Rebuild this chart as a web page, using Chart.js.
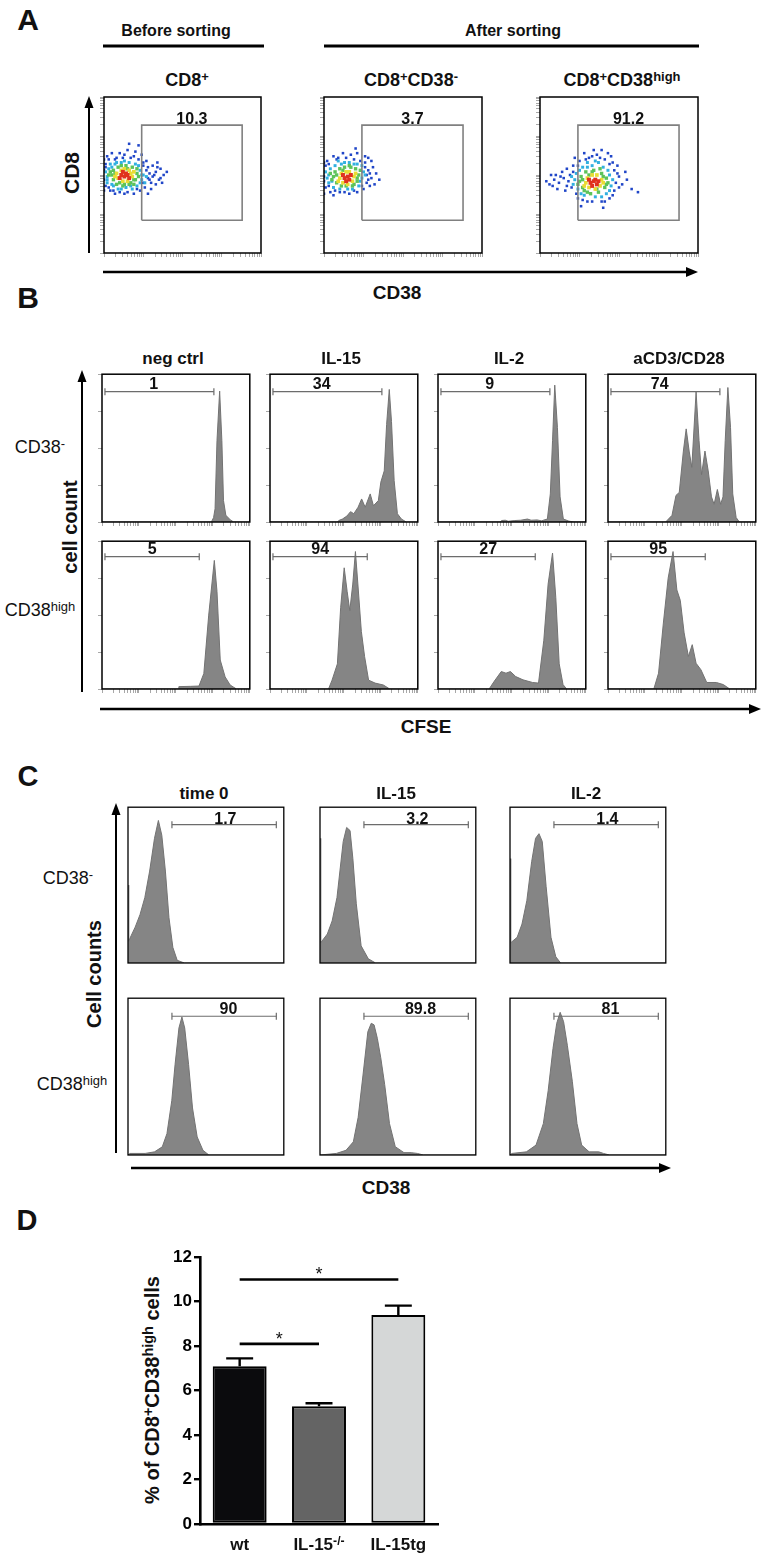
<!DOCTYPE html>
<html><head><meta charset="utf-8">
<script src="https://cdn.jsdelivr.net/npm/chart.js@4.4.1/dist/chart.umd.min.js"></script>
<style>
html,body{margin:0;padding:0;background:#fff}
#fig{position:relative;width:766px;height:1556px;overflow:hidden;background:#fff;font-family:"Liberation Sans",Arial,Helvetica,sans-serif;color:#111}
.t{position:absolute;transform:translate(-50%,-50%);white-space:nowrap;line-height:1;font-weight:bold}
.t sup{font-size:0.72em;position:relative;top:-0.42em;vertical-align:baseline;line-height:0}
.r{transform:translate(-50%,-50%) rotate(-90deg)}
.n{font-weight:normal}
canvas{position:absolute}
#deco{position:absolute;left:0;top:0}
</style></head>
<body><div id="fig">
<svg id="deco" width="766" height="1556">
 <g stroke="#000" fill="none">
  <line x1="103" y1="46" x2="264" y2="46" stroke-width="3"/>
  <line x1="324" y1="46" x2="699" y2="46" stroke-width="3"/>
  <line x1="89" y1="253" x2="89" y2="104" stroke-width="2"/>
  <line x1="103" y1="272" x2="688" y2="272" stroke-width="2.5"/>
  <line x1="82" y1="692" x2="82" y2="380" stroke-width="2"/>
  <line x1="100" y1="709" x2="750" y2="709" stroke-width="2.5"/>
  <line x1="116" y1="1153" x2="116" y2="813" stroke-width="2"/>
  <line x1="131" y1="1168" x2="660" y2="1168" stroke-width="2.5"/>
 </g>
 <g fill="#000">
  <polygon points="89,96 84.5,108 93.5,108"/>
  <polygon points="698,272 686,267 686,277"/>
  <polygon points="82,370 77.5,382 86.5,382"/>
  <polygon points="761,709 749,704 749,714"/>
  <polygon points="116,803 111.5,815 120.5,815"/>
  <polygon points="671,1168 659,1163 659,1173"/>
 </g>
</svg>
</div>
<script>
// ================= DATA =================
// ---- Panel A (flow cytometry dot plots, CD38 vs CD8, axes in % of log range)
const sortGroupsA = ['Before sorting', 'After sorting'];
const populationsA = ['CD8<sup>+</sup>', 'CD8<sup>+</sup>CD38<sup>-</sup>', 'CD8<sup>+</sup>CD38<sup>high</sup>'];
const gateValuesA = ['10.3', '3.7', '91.2'];
const gateA = [24, 88, 21, 82]; // CD38high gate: x from, x to, y from, y to

const cloudA1_red = [[11,50],[13,49],[15,50],[12,52],[14,51],[10,48],[16,48]];
const cloudA1_yellow = [[8,51],[9,48],[17,51],[18,49],[13,54],[12,46],[15,46],[7,49],[19,52],[11,53],[16,53]];
const cloudA1_green = [[5,50],[6,53],[6,47],[20,47],[21,51],[9,55],[14,56],[18,55],[10,45],[17,45],[4,52],[22,49],[8,44],[13,44],[19,44],[7,51],[15,54],[11,56],[19,47],[12,43],[3,50],[21,54],[16,44]];
const cloudA1_cyan = [[2,49],[3,54],[2,45],[23,53],[24,47],[7,57],[11,58],[16,58],[20,57],[6,43],[14,42],[21,43],[25,50],[1,52],[4,57],[9,41],[18,41],[26,45],[5,55],[8,58],[13,59],[22,56],[24,50],[2,47],[5,44],[11,41],[17,43],[23,45],[27,49]];
const cloudA1_blue = [[0,47],[0,53],[1,57],[1,43],[3,60],[4,40],[8,61],[12,61],[17,61],[22,60],[25,56],[27,53],[28,48],[26,42],[23,40],[19,38],[13,38],[7,38],[29,51],[31,49],[30,45],[33,52],[35,47],[36,54],[38,50],[31,56],[27,59],[24,63],[20,65],[15,66],[10,64],[5,64],[2,62],[0,60],[0,40],[30,41],[33,44],[37,45],[28,38],[34,58],[16,70],[22,69],[3,42],[6,40],[10,39],[15,39],[21,41],[25,45],[29,47],[32,50],[28,55],[25,58],[19,62],[13,63],[7,60],[1,55],[34,55],[36,48],[40,52]];

const cloudA2_red = [[13,48],[15,49],[14,46],[16,47],[12,50],[17,50]];
const cloudA2_yellow = [[10,48],[11,51],[18,46],[19,49],[14,52],[16,52],[12,45],[15,44],[9,46],[20,51]];
const cloudA2_green = [[6,49],[7,52],[8,45],[21,46],[22,50],[10,54],[17,55],[13,55],[11,43],[18,43],[5,47],[23,53],[20,54],[8,50],[12,53],[19,44],[14,43],[4,51],[16,56],[21,48]];
const cloudA2_cyan = [[3,50],[4,54],[3,45],[24,48],[25,52],[7,56],[13,58],[19,57],[6,42],[15,41],[22,43],[2,48],[9,59],[24,56],[5,46],[10,41],[18,41],[23,46],[26,50],[11,57],[16,58],[21,57],[1,52]];
const cloudA2_blue = [[0,46],[0,52],[1,56],[1,42],[2,59],[4,39],[9,61],[14,61],[19,60],[23,59],[26,55],[27,50],[27,45],[25,41],[21,39],[16,38],[10,39],[6,37],[28,53],[30,48],[29,43],[31,55],[33,51],[35,47],[30,59],[26,62],[21,64],[12,64],[6,62],[0,58],[0,38],[32,44],[20,67],[28,61],[3,43],[7,40],[13,39],[19,40],[24,43],[28,47],[29,51],[26,58],[17,63],[8,60],[3,57],[0,49]];

const cloudA3_red = [[32,45],[34,46],[36,44],[33,43],[35,47],[31,47],[37,46]];
const cloudA3_yellow = [[29,45],[30,48],[38,43],[39,47],[33,50],[36,50],[31,42],[35,41],[28,43],[40,45]];
const cloudA3_green = [[25,46],[26,49],[27,42],[41,42],[42,48],[29,52],[34,53],[39,51],[30,39],[37,39],[24,44],[43,45],[32,38],[38,54],[27,47],[31,50],[40,49],[28,40],[36,41],[33,52],[42,44]];
const cloudA3_cyan = [[22,47],[23,51],[24,41],[44,50],[45,43],[27,55],[33,56],[40,55],[28,37],[35,36],[42,38],[21,44],[46,47],[37,58],[30,58],[25,53],[20,49],[26,38],[39,36],[44,40],[43,53],[35,59],[30,55]];
const cloudA3_blue = [[18,46],[19,50],[20,42],[15,48],[12,45],[9,47],[6,44],[4,46],[14,52],[10,50],[17,54],[21,56],[25,59],[31,61],[36,63],[41,60],[44,57],[47,53],[48,45],[47,40],[44,35],[39,33],[33,33],[27,34],[23,38],[50,49],[52,44],[55,47],[58,41],[62,39],[49,56],[43,64],[28,64],[22,61],[16,40],[26,30],[40,29],[54,52],[11,41],[7,50],[45,62],[34,66],[17,43],[21,52],[24,56],[29,60],[33,62],[38,61],[46,58],[49,51],[50,42],[46,37],[41,33],[30,33],[24,35],[13,49],[8,43],[39,66]];

// ---- Panel B (CFSE dilution histograms, x = CFSE % of range, y = % of max count)
const stimB = ['neg ctrl', 'IL-15', 'IL-2', 'aCD3/CD28'];
const rowLabelsB = ['CD38<sup>-</sup>', 'CD38<sup>high</sup>'];
const gateValuesB_neg = ['1', '34', '9', '74'];
const gateValuesB_high = ['5', '94', '27', '95'];
const gateB_neg = [2, 75.7];
const gateB_high = [2, 65.8];

const histB_neg_negctrl = [[0,0],[74,0],[75.5,3],[76.5,9],[77.8,55],[79.6,88.6],[81.1,55],[82.2,14.5],[83.8,4.5],[86.7,1.6],[89,0],[100,0]];
const histB_neg_IL15 = [[0,0],[45.6,0],[46.5,1],[49,2],[52,4],[54.5,7],[56.7,5.6],[59.6,10],[62,15.6],[64.4,10],[67.8,19],[70,11],[73.3,14.5],[75,27],[77.3,34.6],[78.9,66],[80.7,89.7],[82.2,68],[84,28],[86.2,5.6],[88.9,2],[92.2,0],[100,0]];
const histB_neg_IL2 = [[0,0],[42,0],[43,1],[45.5,1.2],[47.5,0.5],[52,1],[56,1.2],[60.5,2],[63,1.2],[67,1.4],[70,0.8],[74,2],[76,19],[77.5,55],[79,92.6],[80.8,64],[82.6,17],[84.8,2],[88.5,0.6],[92,0],[100,0]];
const histB_neg_aCD3 = [[0,0],[39,0],[43.3,4.5],[46,18],[48.2,20],[51,48],[52.9,63],[54.9,48],[56.7,37],[59.6,88],[61.6,55],[63.3,32],[65.6,48],[67.8,34.6],[70,17],[71.8,12],[74,22],[76.2,12],[77.8,17],[79.3,55],[81.1,91],[82.9,64],[84.4,19],[86.7,3],[88.9,0],[100,0]];
const histB_high_negctrl = [[0,0],[51.8,0],[52,1.6],[60,1.8],[65.6,2],[68.9,10.5],[72.2,50],[76,87],[77.8,66],[80,19.6],[83.3,8.2],[86.7,2.7],[91,0],[100,0]];
const histB_high_IL15 = [[0,0],[39.6,0],[42,6],[45.6,17],[47.8,55],[50.2,82],[52.2,66],[54,53],[56,71],[57.8,93],[59.6,69],[61.8,39],[64,22],[66.7,6],[71.1,4],[76.7,2.7],[81,0],[100,0]];
const histB_high_IL2 = [[0,0],[34.6,0],[37.9,5],[42.8,11.8],[46,10.7],[49,11.8],[52.6,8.4],[57.5,6.2],[64,4.4],[68,4],[71.6,33],[74.5,71],[77.5,92],[79.7,62],[82,17],[84.6,3],[87,0],[100,0]];
const histB_high_aCD3 = [[0,0],[31,0],[34.2,10.7],[37.4,44],[40.7,75],[44,93],[46.6,67],[48.9,60],[51.5,38],[54.4,22],[57,30],[59.6,17.4],[62.9,13],[66.8,4.4],[73.3,4.4],[78,3],[82.4,0],[100,0]];

// ---- Panel C (CD38 expression histograms)
const stimC = ['time 0', 'IL-15', 'IL-2'];
const rowLabelsC = ['CD38<sup>-</sup>', 'CD38<sup>high</sup>'];
const gateValuesC_neg = ['1.7', '3.2', '1.4'];
const gateValuesC_high = ['90', '89.8', '81'];
const gateC = [28.2, 95.2];

const histC_neg_time0 = [[0,0],[0.3,50],[0.6,14],[2,17.5],[4.6,23],[7.7,31],[10.8,42],[13.9,59],[17,80],[19.5,91.5],[21.7,82],[24,59],[26.3,29],[28.8,10],[31.6,1.7],[36.2,0],[100,0]];
const histC_neg_IL15 = [[0,0],[0.3,80],[0.6,13],[4.7,18.6],[7.8,27],[10.9,42],[13,61],[14.9,78],[17.1,87],[19.3,85],[21.1,67],[23.3,38],[26.4,11],[31,2.7],[35.7,0],[100,0]];
const histC_neg_IL2 = [[0,0],[0.3,67],[0.6,13],[4.6,16.5],[7.7,25],[10.8,40],[13.9,65],[16.4,80],[18.6,83],[20.7,78],[23.2,49],[26.3,16.5],[29.4,4],[32.5,0],[100,0]];
const histC_high_time0 = [[0,0],[1.2,1],[11,1],[17,2],[22,5.2],[25,13.6],[28.1,34.6],[30.2,57.6],[32.7,81],[34.6,88],[36.4,81],[38.9,57.6],[41.4,30],[44.4,11.5],[48.1,3],[51.9,0],[100,0]];
const histC_high_IL15 = [[0,0],[10.5,1],[16.7,3],[21.4,8.4],[24.5,24],[27.6,51],[30.7,78.6],[32.9,84],[34.7,83],[36.8,74.4],[39,62],[41.5,45],[44.6,20],[48.3,5.3],[53.9,1.5],[58.5,1.5],[62.5,1],[66.3,0],[100,0]];
const histC_high_IL2 = [[0,0],[1.2,1],[10.5,2],[16.7,6.3],[21.4,20],[24.5,41],[27.6,68],[30,84],[32.2,91],[34.4,85],[36.8,70],[40,47],[43,20],[46,6.3],[50.8,2],[57,2],[60,1],[63.8,0],[100,0]];

// ---- Panel D (bar chart)
const groupsD = ['wt', 'IL-15<sup>-/-</sup>', 'IL-15tg'];
const meansD = [7.1, 5.3, 9.4];
const semD = [0.35, 0.13, 0.42];
const yTicksD = [0, 2, 4, 6, 8, 10, 12];
const sigD = [[0, 2, 11.0], [0, 1, 8.1]]; // from group, to group, bar height
const sigMarkD = '*';

// ================= LAYOUT / STYLE =================
const FONT = '"Liberation Sans", Arial, Helvetica, sans-serif';
Chart.defaults.font.family = FONT;
Chart.defaults.animation = false;
Chart.defaults.responsive = false;
Chart.defaults.maintainAspectRatio = false;
Chart.defaults.plugins.legend.display = false;
Chart.defaults.plugins.tooltip.enabled = false;

const fig = document.getElementById('fig');
function makeCanvas(x, y, w, h) {
  const c = document.createElement('canvas');
  c.width = w; c.height = h;
  c.style.left = x + 'px'; c.style.top = y + 'px';
  c.style.width = w + 'px'; c.style.height = h + 'px';
  fig.appendChild(c);
  c._x = x; c._y = y;
  return c;
}
function label(html, cx, cy, size, extra) {
  const d = document.createElement('div');
  d.className = 't' + (extra ? ' ' + extra : '');
  d.innerHTML = html;
  d.style.left = cx + 'px'; d.style.top = cy + 'px';
  d.style.fontSize = size + 'px';
  fig.appendChild(d);
  return d;
}
const pts = arr => arr.map(([x, y]) => ({x, y}));
function logTicks(decades) {
  const out = [], step = 100 / decades;
  for (let d = 0; d < decades; d++) for (let k = 1; k <= 9; k++) out.push(d * step + step * Math.log10(k));
  out.push(100);
  return out;
}
const boxPlugin = {
  id: 'boxFrame',
  afterDraw(chart) {
    const a = chart.chartArea, ctx = chart.ctx;
    ctx.save(); ctx.strokeStyle = '#000'; ctx.lineWidth = chart.options.frameWidth || 1.5;
    ctx.strokeRect(a.left, a.top, a.right - a.left, a.bottom - a.top);
    ctx.restore();
  }
};
function at(chart, vx, vy) {
  const c = chart.canvas;
  return [c._x + chart.scales.x.getPixelForValue(vx), c._y + chart.scales.y.getPixelForValue(vy)];
}
function frameScales(xTicks, yTicks, showTicks) {
  const pl = 6, pb = 6;
  const grid = {display: showTicks, drawOnChartArea: false, drawTicks: true, tickLength: 4, color: '#a8a8a8', lineWidth: 1};
  return {
    x: {type: 'linear', min: 0, max: 100, ticks: {display: false}, grid, border: {display: false},
        afterBuildTicks(s) { s.ticks = xTicks.map(v => ({value: v})); }, afterFit(s) { s.height = pb; }},
    y: {type: 'linear', min: 0, max: 100, ticks: {display: false}, grid, border: {display: false},
        afterBuildTicks(s) { s.ticks = yTicks.map(v => ({value: v})); }, afterFit(s) { s.width = pl; }}
  };
}

// ================= PANEL A =================
label('A', 28, 20, 30);
label(sortGroupsA[0], 176, 31, 16);
label(sortGroupsA[1], 513, 31, 16);
label('CD8', 71, 173, 21, 'r');
label('CD38', 397, 292, 19);

const boxesA = [[104, 96, 158, 157], [324, 96, 159, 157], [540, 96, 159, 157]];
const titleXA = [187, 411, 622];
const cloudsA = [
  [cloudA1_red, cloudA1_yellow, cloudA1_green, cloudA1_cyan, cloudA1_blue],
  [cloudA2_red, cloudA2_yellow, cloudA2_green, cloudA2_cyan, cloudA2_blue],
  [cloudA3_red, cloudA3_yellow, cloudA3_green, cloudA3_cyan, cloudA3_blue]
];
const densityStyle = [['#e0321e', 2.8], ['#e9dc34', 2.6], ['#5cc35a', 2.4], ['#31b0e0', 2.1], ['#2046c8', 1.8]];
boxesA.forEach(([bx, by, bw, bh], i) => {
  label(populationsA[i], titleXA[i], 80, 18);
  const c = makeCanvas(bx - 6, by - 3, bw + 9, bh + 9);
  const [gx0, gx1, gy0, gy1] = gateA;
  const ds = [{type: 'line', data: pts([[gx0, gy0], [gx1, gy0], [gx1, gy1], [gx0, gy1], [gx0, gy0]]),
               borderColor: '#808080', borderWidth: 1.6, pointRadius: 0, fill: false, tension: 0}];
  cloudsA[i].forEach((cl, k) => ds.push({type: 'scatter', data: pts(cl), pointStyle: 'rect',
    pointRadius: densityStyle[k][1], backgroundColor: densityStyle[k][0], borderWidth: 0}));
  const ch = new Chart(c, {type: 'scatter', data: {datasets: ds},
    options: {layout: {padding: {left: 0, top: 3, right: 3, bottom: 0}}, frameWidth: 1.5,
      scales: frameScales(logTicks(4), logTicks(4), true)}, plugins: [boxPlugin]});
  const [lx, ly] = at(ch, (gx0 + gx1) / 2, 86);
  label(gateValuesA[i], lx, ly, 16);
});

// ================= PANEL B =================
label('B', 28, 298, 30);
label('cell count', 70, 527, 20, 'r');
label('CFSE', 426, 726, 19);
const colXB = [102, 270, 438, 608], wB = 150;
const rowYB = [372, 539], hB = 150;
const histB = [
  [histB_neg_negctrl, histB_neg_IL15, histB_neg_IL2, histB_neg_aCD3],
  [histB_high_negctrl, histB_high_IL15, histB_high_IL2, histB_high_aCD3]
];
const gatesB = [gateB_neg, gateB_high];
const gateValsB = [gateValuesB_neg, gateValuesB_high];
const gateYB = [88.2, 89.5], labelXB = [35, 34], labelYB = [93.5, 94.5];
label(rowLabelsB[0], 40, 447, 18, 'n');
label(rowLabelsB[1], 40, 610, 18, 'n');

function histChart(x, y, w, h, curve, gate, gateY, showTicks, frameW) {
  const c = makeCanvas(x - 6, y - 3, w + 9, h + 9);
  return new Chart(c, {type: 'line', data: {datasets: [
      {data: pts([[gate[0], gateY], [gate[1], gateY]]), borderColor: '#6c6c6c', borderWidth: 1.2,
       pointStyle: 'line', pointRadius: 3.5, pointRotation: 90, pointBorderColor: '#6c6c6c',
       pointBorderWidth: 1.2, fill: false},
      {data: pts(curve), borderColor: '#737373', borderWidth: 1, backgroundColor: '#858585',
       fill: 'origin', pointRadius: 0, tension: 0}
    ]},
    options: {layout: {padding: {left: 0, top: 3, right: 3, bottom: 0}}, frameWidth: frameW,
      scales: frameScales(logTicks(4), [0, 25, 50, 75, 100], showTicks)},
    plugins: [boxPlugin]});
}
colXB.forEach((cx, j) => {
  label(stimB[j], cx + wB / 2 - 4, 358, 17);
  rowYB.forEach((ry, r) => {
    const ch = histChart(cx, ry, wB, hB, histB[r][j], gatesB[r], gateYB[r], true, 1.5);
    const [lx, ly] = at(ch, labelXB[r], labelYB[r]);
    label(gateValsB[r][j], lx, ly, 16);
  });
});

// ================= PANEL C =================
label('C', 28, 776, 29);
label('Cell counts', 94, 974, 20, 'r');
label('CD38', 386, 1187, 19);
const colXC = [128, 320, 510], wC = 158;
const rowYC = [805, 996], hC = [158, 159];
const histC = [
  [histC_neg_time0, histC_neg_IL15, histC_neg_IL2],
  [histC_high_time0, histC_high_IL15, histC_high_IL2]
];
const gateValsC = [gateValuesC_neg, gateValuesC_high];
const gateYC = [88.8, 88.5], labelXC = [62.5, 64.5], labelYC = [92.5, 93.2];
label(rowLabelsC[0], 68, 878, 18, 'n');
label(rowLabelsC[1], 72, 1084, 18, 'n');
colXC.forEach((cx, j) => {
  label(stimC[j], cx + wC / 2 - 3, 793, 17);
  rowYC.forEach((ry, r) => {
    const ch = histChart(cx, ry, wC, hC[r], histC[r][j], gateC, gateYC[r], false, 1.3);
    const [lx, ly] = at(ch, labelXC[r], labelYC[r]);
    label(gateValsC[r][j], lx, ly, 16);
  });
});

// ================= PANEL D =================
label('D', 27, 1220, 29);
label('% of CD8<sup>+</sup>CD38<sup>high</sup> cells', 152, 1390, 20, 'r');
const errPlugin = {
  id: 'errSig',
  afterDatasetsDraw(chart) {
    const ctx = chart.ctx, ys = chart.scales.y, xs = chart.scales.x;
    const meta = chart.getDatasetMeta(0);
    ctx.save(); ctx.strokeStyle = '#000'; ctx.lineWidth = 2.4;
    meta.data.forEach((bar, i) => {
      const y0 = ys.getPixelForValue(meansD[i]), y1 = ys.getPixelForValue(meansD[i] + semD[i]);
      const half = bar.width * 0.25;
      ctx.beginPath(); ctx.moveTo(bar.x, y0); ctx.lineTo(bar.x, y1);
      ctx.moveTo(bar.x - half, y1); ctx.lineTo(bar.x + half, y1); ctx.stroke();
    });
    ctx.lineWidth = 2.6;
    sigD.forEach(([a, b, v]) => {
      const y = ys.getPixelForValue(v);
      ctx.beginPath(); ctx.moveTo(xs.getPixelForValue(a), y); ctx.lineTo(xs.getPixelForValue(b), y); ctx.stroke();
    });
    ctx.restore();
  }
};
const cD = makeCanvas(140, 1245, 300, 300);
const chD = new Chart(cD, {type: 'bar',
  data: {labels: groupsD, datasets: [{data: meansD, backgroundColor: ['#0b0b0d', '#646464', '#d5d7d7'],
    borderColor: '#000', borderWidth: 2, borderSkipped: false, barPercentage: 0.68, categoryPercentage: 1}]},
  options: {layout: {padding: {left: 0, top: 10, right: 2, bottom: 0}},
    scales: {
      y: {min: 0, max: 12, afterBuildTicks(s) { s.ticks = yTicksD.map(v => ({value: v})); },
          ticks: {color: '#000', font: {size: 17, weight: 'bold'}, padding: 2},
          grid: {drawOnChartArea: false, drawTicks: true, tickLength: 6, color: '#000', lineWidth: 2.4},
          border: {color: '#000', width: 2.6}, afterFit(s) { s.width = 60; }},
      x: {ticks: {display: false}, grid: {display: false}, border: {color: '#000', width: 2.6},
          afterFit(s) { s.height = 21; }}
    }},
  plugins: [errPlugin]});
groupsD.forEach((g, i) => {
  const [lx] = at(chD, i, 0);
  label(g, lx, 1544, 17);
});
sigD.forEach(([a, b, v]) => {
  const [xa, y] = at(chD, a, v), [xb] = at(chD, b, v);
  label(sigMarkD, (xa + xb) / 2, y - 5, 18, 'n');
});
</script>
</body></html>
